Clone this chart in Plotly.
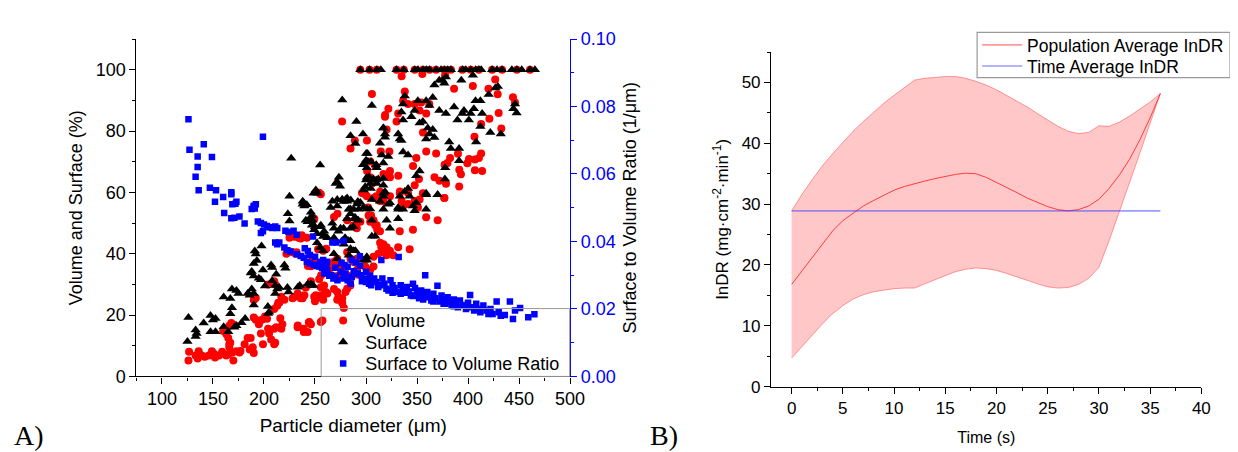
import plotly.graph_objects as go

# ---------------- Panel A data (particle diameter in um) ----------------
volume_pts = [
    (126,5.2),(126.6,8.0),(133,6.8),(135,5.8),(136,8.2),(139,6.8),(142,6.4),(146,6.8),(149,8.2),(151,7.4),
    (152,6.2),(156,6.8),(159,8.0),(163,6.8),(165,7.2),(166,9.5),(169,7.8),(170,5.2),(173,8.2),(176,7.8),(177,8.3),
    (166,16.5),(165,12.5),(166,10.5),(167,11),(168,17.4),(171,16.8),(160,14.8),(163,13.8),(181,10.5),(184,12.5),
    (187,12.5),(190,7.6),(186,8.8),(189,9.5),(190,19.2),(192,18.5),(195,17),(198,18.5),(201,19.5),(203,18.8),
    (190,24.9),(192,25.6),(197,14),(199,10.5),(204,15.5),(205,14),(207,12),(210,10.5),(211,11),(210,15.5),
    (212,16),(210,22),(213,23),(214,24),(204,30),(210,31),(211,30),(215,24),(217,26),(220,25),(216,19),(218,17),
    (217,15.5),(225,45.2),(230,45.5),(236,45),(237,46),(231,40),(232,40.5),(228,25.5),(230,26),(233,27),(236,25.5),
    (233,16),(239,15.5),(239,14.5),(244,17.6),(246,17),(241,29),(244,30),(246,31),(243,36),(248,38),(251,36.5),
    (250,24.5),(254,25.7),(258,25),(253,41.5),(256,41.5),(258,41),(256,33),(261,34),
    (233.1,16.6),(242.8,14.5),(244.4,17.7),(255.7,17.7),(257.3,18.2),(237.9,25.5),(239.6,26.5),(249.2,26),
    (250.8,26.5),(260.5,27.5),(262.1,27),(254.1,31.7),(255.7,29.1),(258.9,29.6),(276.7,25.5),(276.7,23.9),
    (278.3,22.3),(279.9,27.5),(281.5,28.6),(284.7,29.6),(284.7,32.2),(287.9,33.3),(291.2,34.8),(268.6,37.4),
    (271.8,38.4),(275,36.4),(299.2,35.8),(304.1,34.8),(307.3,35.8),(307.3,39),(312.1,40),(317,43.1),(320.2,42.1),
    (323.4,41),(326.7,39.5),(331.5,42.1),(333.1,47.3),(346,47.8),(342.8,41.5),(358.9,51.9),(370.2,50.9),
    (376.7,58.2),(333.1,59.7),(341.2,59.7),(355.7,59.7),(302.5,52.5),(304.1,50.4),(310.5,49.3),(313.7,47.3),
    (249.3,51.4),(268.6,52),(272,53),(281.5,50.9),(288,49.3),(291,48.3),(294.5,50.4),(300.9,58.7),(302,55.1),
    (305,52.5),(307.4,50.9),(309,49.3),(311,47.8),(313.8,43.6),(315,42.1),(318,40.5),(320,39.5),
    (281.5,40.5),(284.8,38.4),(288,37.3),(291.2,38.4),(276.7,34.8),(278.3,33.2),(284.8,32.7),(291.2,33.2),
    (271.8,32.7),(268.6,28.5),(271.8,27.5),(273,26),(271.8,25),(255.7,26.5),(260,27),(246,35.9),(255.7,35.9),
    (265,35.3),(261,41.6),(234,45.2),(237,45.7),(242,45.2),(222,40),(228,40.5),
    (334.9,97.9),(355.2,98.6),(377.5,98.2),(305.8,92.1),(338,92.9),(354,89.3),(362,88.8),(359,85.7),(386.3,93.8),
    (404.7,94.7),(426.6,96.8),(420,93.8),(429,92),(444,91),(446,89.3),(430,85.9),(420.9,84),(432.6,80.8),
    (412.8,82.3),(406.3,78.1),(412.8,72.7),(406.7,70.7),(390.1,72.6),(391.4,67.4),(393,65.9),(377,69),(379.8,69.6),
    (382.4,71.2),(368.7,72.7),(359,73.3),(355.8,79.5),(352.5,86.7),(347.7,88.8),(341.2,88.8),(336.4,89.9),
    (329.9,83.1),(321.9,87.3),(318.7,85.2),(331.5,85.7),(276.6,83.1),(284.8,74.3),(289,76.9),(300.9,76.9),
    (314.5,73.3),(322.9,73.3),(304.2,70.1),(309,68.6),(317.1,66),(323.5,67),(323.5,64.9),(331.6,65.4),(333.2,60.3),
    (347.7,62.3),(346.1,68.6),(349.3,71.2),(351.9,64.4),(367.1,64.9),(371.9,63.8),(378.4,62.8),(391.3,61.9),
    (406.7,67.2),(413.8,67),(410.6,71.2),(400.9,70.9),(399.3,69.5),(296,59.8),(299.3,59.3),(307.4,58.2),
    (313.8,57.2),(317.1,57.2),(323.5,58.7),(334.9,57.2),(341.2,56.2),(347.7,57.2),(350.9,55.1),(352.5,57.7),
    (376.8,58.2),(336.4,55.6),(254,59.9),(255.7,59.4),(301,67),(304,64.9),(306,62.9),(310,58.7),(312,57.6),
    (313.8,60.2),(320.2,80.5),(318.6,84.7),
]
volume_full_x = [294.4, 303.4, 310.6, 329.9, 337, 347.7, 355.8, 362.2, 368.7, 376.8, 383.2, 394.5,
                 402.6, 410.6, 423.6, 433.3, 447.8, 460.7]

surface_pts = [
    (126,19.2),(125,11.4),(133,15.1),(134,14),(133,13),(140.9,17.4),(147.6,19.9),(150,18.4),(152.5,18.9),
    (147.6,14.6),(152.5,14.6),(160.5,16.2),(160.5,25.9),(167,25.4),(168.6,28.5),(165,14.6),(168.6,22.4),
    (167,20.4),(171,16),(173,16.5),(178,17.5),(181.5,18.9),(173,28),(175,27),(184,27),(186,26.5),(188,28.5),
    (190,27),(190,23.3),(187.1,33.7),(190,36.8),(193,37.8),(192,39.9),(191,40.9),(197.6,42.5),(188,34.2),
    (190,32.7),(195,32),(197,31.5),(199,34.7),(201,29.5),(203.8,22.8),(205,20.9),(204,20.5),(207,36.3),
    (208,35.5),(208,31.2),(211,29.6),(212,33.3),(211,27),(213,28.5),(215,29),(220,36.3),(221,35.3),(223,29),
    (224,27.5),(225,50.7),(239.6,55.6),(242,56),(241,50.9),(244,51),(247,52.5),(246,50.5),(248.6,59.7),
    (247,49.3),(250,48.8),(252,46.5),(255,48.8),(258,46.5),(258,45.6),(252,43.6),(255,42),(258,41),(243,30.1),
    (246,29.6),(248,29.8),(235,29.6),(265.3,55.1),(271.8,57.7),(276.6,57.7),(281.5,58.2),(284.7,54.6),
    (291.2,56.2),(294.4,56.7),(297.6,55.1),(300.9,54.6),(304.1,54.6),(305.7,50.9),(268.5,48.3),(273,47.3),
    (278,48.3),(279.5,45.2),(282.8,44.2),(284.5,48.3),(287.6,48.8),(289.2,51.9),(292.4,50.9),(268.5,40),
    (271.8,38.4),(276.7,36.8),(283.1,39.5),(284.8,41.6),(288,41),(309,45.7),(301,37.9),
    (226.7,71.1),(255,68.9),(276.7,90.1),(305.7,88.3),(290.6,83.1),(284.8,78.5),(289.6,75.9),(297,79),
    (301.5,72.7),(317,81),(313.7,76),(318.6,78),(297,69),(300,70.5),(305,70),(310,69),(271.5,63.5),(274.5,62),
    (300,64),(303,65),(310,64),(317,64.5),(252.5,59.7),(270.3,62.9),(281.5,57.1),(239,56.6),(273.4,64.9),
    (271.8,63.3),(237.9,57.1),(267,57.1),(278,57),(285,57.5),(292,57),
    (300.2,72.7),(301.8,70.1),(300.8,68.0),(297.6,60.8),(299.2,61.8),(304.1,62.9),(307.3,64.4),(304.7,61.3),
    (310.5,62.9),(312.1,64.4),(317,62.3),(318.6,60.2),(300.8,64.9),(310.5,68.0),(317,69.6),(315.4,72.2),
    (321.8,71.7),(317,81.0),(318.6,79),(334.7,86.2),(336.3,83.6),(338,91.4),(336.3,88.8),(344.4,84.7),
    (347.6,86.7),(350.8,89.9),(358.9,89.9),(362.1,88.3),(352.5,82.6),(355.7,83.1),(360.5,81),(362.1,79),
    (358.9,77.4),(367,77.9),(365.4,80.5),(371.8,86.7),(378.3,85.7),(375,96.6),(376.7,95.6),(367,95.0),
    (365.4,90.9),(371.8,96.6),(378.3,97.6),(386.3,87.8),(394.4,85.7),(396,86.7),(389.6,83.6),(400.8,83.6),
    (402.5,85.7),(405.7,87.3),(407.3,89.9),(412.1,89.9),(413.8,85.7),(412.1,81.5),(420.2,91.9),(429.2,94.5),
    (426.7,94),(421.8,79.5),(432.1,79),(404.7,98.2),(393.4,96.6),(407.9,76.4),(391.2,74.3),(391.2,70.3),
    (381.5,76.4),(383.1,74.3),(377.6,68.0),(377.3,64.4),(370.2,59.2),(358.9,59.7),(352.5,67),(349.2,65.4),
    (341.2,72.2),(336.3,73.2),(333.1,77.4),(331.5,79),(334.7,76.9),(341.2,61.3),(342.8,58.7),(333.1,58.7),
    (331.5,55.1),(323.4,56.6),(317,58.7),(346,55.6),(358.9,54.5),(444.4,87.3),(447.6,85.9),(446,88.8),
    (250.8,60.8),(237.9,56.1),(246,53.5),(247.6,50.9),(242.8,50.4),(249.2,47.8),(255.7,49.3),(258.9,47.3),
    (262.1,45.2),(268.6,45.2),(267,49.9),(271.8,55.6),(276.7,57.7),(279.9,57.7),(283.1,54.5),(287.9,54.5),
    (292.8,54.5),(284.7,53),(289.6,51.4),(281.5,51.4),(275,48.3),(276.7,44.2),(278.3,43.1),(284.7,44.2),
    (289.6,41.0),(297.6,37.9),(300.8,39),(305.7,45.7),(323.4,48.3),(320.2,50.9),(331.5,51.4),(321.8,56.1),
    (317,54.5),(305.7,57.7),(313.7,57.1),(317,59.7),(337.9,60.3),(349.2,56.6),(358.9,59.2),(370.2,59.2),
    (347.6,54.0),(336.3,54.5),(331.5,54.5),(247.6,29.6),(246,30.1),(233.1,29.1),(225,58.7),(223.4,53),
]
surface_full_x = [294.4, 303.4, 310.6, 314.5, 329.9, 337, 347.7, 350.9, 355.8, 359, 362.2, 368.7, 373.5,
                  376.8, 380, 383.2, 394.5, 397.7, 402.6, 407.4, 410.6, 412.9, 423.6, 428.4, 433.3, 442.9,
                  447.8, 452.6, 460.7, 465.5]

ratio_pts = [
    (126,0.0762),(127,0.0672),(135,0.0652),(141,0.0688),(149,0.0650),(135,0.0621),(133,0.0592),(136,0.0552),
    (147,0.0559),(153,0.0552),(152,0.0518),(160,0.0532),(168,0.0546),(168,0.0540),(173,0.0518),(199,0.0710),
    (190,0.0506),(192,0.0510),(161,0.0484),(169,0.0510),(172,0.0512),(168,0.0469),(171,0.0470),(176,0.0474),
    (181,0.0453),(188,0.0496),(190,0.0502),(191,0.0498),(194,0.0459),(197,0.0455),(197,0.0425),(199,0.0430),
    (200,0.0450),(203,0.0446),(205,0.0442),(208,0.0440),(211,0.0444),(213,0.0440),(211,0.0397),(213,0.0392),
    (215,0.0397),(220,0.0382),(223,0.0374),(226,0.0370),(221,0.0432),(224,0.0428),(229,0.0432),(232,0.0420),
    (232,0.0362),(236,0.0357),(239,0.0352),(240,0.0380),(243,0.0372),(242,0.0340),(245,0.0335),(249,0.0330),
    (252,0.0327),(245,0.0360),(250,0.0355),(248,0.0415),(254,0.0326),(257,0.0322),(259,0.0305),(262,0.0315),
    (264,0.0298),(255,0.0340),(258,0.0345),(261,0.0330),(266,0.0300),(268,0.0290),(270,0.0295),(272,0.0285),
    (267,0.0397),(276,0.0337),(279,0.0330),(282,0.0325),(278,0.0290),(282,0.0285),(285,0.0275),(288,0.0312),
    (292,0.0305),(295,0.0300),(298,0.0290),(286,0.0345),(290,0.0338),(294,0.0328),(300,0.0280),(303,0.0275),
    (305,0.0270),(300,0.0310),(304,0.0298),(308,0.0290),(310,0.0280),(312,0.0265),(315,0.0345),(316,0.0290),
    (318,0.0275),(320,0.0260),(322,0.0255),(324,0.0285),(326,0.0270),(328,0.0262),(330,0.0250),(332,0.0354),
    (334,0.0270),(336,0.0258),(338,0.0248),(340,0.0265),(342,0.0252),(344,0.0240),(346,0.0275),(348,0.0262),
    (350,0.0245),(352,0.0232),(354,0.0255),(356,0.0240),(358,0.0300),(360,0.0250),(362,0.0235),(364,0.0225),
    (366,0.0245),(368,0.0232),(370,0.0269),(372,0.0222),(374,0.0240),(376,0.0228),(378,0.0215),(380,0.0235),
    (382,0.0222),(384,0.0210),(386,0.0228),(388,0.0218),(390,0.0205),(392,0.0225),(395,0.0212),(398,0.0200),
    (400,0.0218),(402,0.0241),(404,0.0205),(406,0.0195),(408,0.0215),(410,0.0200),(412,0.0190),(415,0.0210),
    (418,0.0195),(420,0.0185),(422,0.0200),(424,0.0185),(428,0.0222),(430,0.0190),(432,0.0180),(436,0.0182),
    (441,0.0222),(444,0.0170),(446,0.0195),(451,0.0203),(459,0.0175),(465,0.0184),(271,0.0397),(278,0.0401),
    (294,0.0356),(262,0.0340),(270,0.0322),(275,0.0310),(280,0.0305),(286,0.0295),(296,0.0282),(306,0.0285),
    (314,0.0270),(326,0.0248),(334,0.0245),(346,0.0238),(356,0.0228),(366,0.0222),(376,0.0215),(386,0.0208),
]

# ---------------- Panel B data ----------------
time_s = list(range(0, 37))
indr_mean = [16.8, 19.0, 21.2, 23.4, 25.6, 27.3, 28.5, 29.7, 30.6, 31.5, 32.3, 32.9, 33.4, 33.8, 34.2, 34.6,
             34.9, 35.1, 35.0, 34.4, 33.6, 32.7, 31.9, 31.0, 30.3, 29.6, 29.1, 28.9, 29.1, 29.7, 30.8, 32.6,
             34.8, 37.4, 40.6, 44.2, 48.2]
indr_upper = [28.9, 31.6, 34.0, 36.3, 38.3, 40.2, 42.0, 43.6, 45.1, 46.6, 47.9, 49.2, 50.4, 50.7, 50.9, 51.0,
              51.0, 50.7, 50.2, 49.6, 48.8, 47.9, 47.0, 46.0, 44.9, 43.8, 42.8, 42.0, 41.6, 41.8, 42.9, 42.8,
              43.5, 44.5, 45.6, 46.8, 48.2]
indr_lower = [4.7, 6.6, 8.5, 10.3, 12.0, 13.3, 14.4, 15.1, 15.6, 15.9, 16.1, 16.2, 16.2, 16.9, 17.6, 18.3,
              18.9, 19.3, 19.5, 19.4, 19.1, 18.6, 18.0, 17.4, 16.9, 16.4, 16.2, 16.3, 16.8, 17.8, 19.6, 24.0,
              28.7, 33.5, 38.4, 43.3, 48.2]
time_average_indr = 28.9

# ---------------- figure ----------------
W, H = 1238, 452
FONT = "Liberation Sans, Arial, sans-serif"
SERIF = "Liberation Serif, Times New Roman, serif"

vol_x = [p[0] for p in volume_pts] + volume_full_x
vol_y = [p[1] for p in volume_pts] + [100] * len(volume_full_x)
sur_x = [p[0] for p in surface_pts] + surface_full_x
sur_y = [p[1] for p in surface_pts] + [100] * len(surface_full_x)
rat_x = [p[0] for p in ratio_pts]
rat_y = [p[1] for p in ratio_pts]

fig = go.Figure()
fig.add_trace(go.Scatter(x=vol_x, y=vol_y, mode="markers", name="Volume",
                         marker=dict(symbol="circle", size=8, color="#FF0000"),
                         xaxis="x", yaxis="y", legend="legend"))
fig.add_trace(go.Scatter(x=sur_x, y=sur_y, mode="markers", name="Surface",
                         marker=dict(symbol="triangle-up", size=9, color="#000000"),
                         xaxis="x", yaxis="y", legend="legend3"))
fig.add_trace(go.Scatter(x=rat_x, y=rat_y, mode="markers", name="Surface to Volume Ratio",
                         marker=dict(symbol="square", size=6.5, color="#0000FF"),
                         xaxis="x", yaxis="y3", legend="legend4"))

# Panel B
fig.add_trace(go.Scatter(x=time_s, y=indr_upper, mode="lines", showlegend=False,
                         line=dict(color="rgba(255,0,0,0.45)", width=0.8),
                         xaxis="x2", yaxis="y2", hoverinfo="skip"))
fig.add_trace(go.Scatter(x=time_s, y=indr_lower, mode="lines", showlegend=False, fill="tonexty",
                         fillcolor="rgba(255,0,0,0.22)",
                         line=dict(color="rgba(255,0,0,0.45)", width=0.8),
                         xaxis="x2", yaxis="y2", hoverinfo="skip"))
fig.add_trace(go.Scatter(x=time_s, y=indr_mean, mode="lines", name="Population Average InDR",
                         line=dict(color="rgba(255,0,0,0.7)", width=1),
                         xaxis="x2", yaxis="y2", legend="legend2"))
fig.add_trace(go.Scatter(x=[time_s[0], time_s[-1]], y=[time_average_indr, time_average_indr],
                         mode="lines", name="Time Average InDR",
                         line=dict(color="rgba(60,60,255,0.5)", width=1.6),
                         xaxis="x2", yaxis="y2", legend="legend5"))


def px(v):
    return v / W


def py(v):
    return 1 - v / H


tickfont_a = dict(family=FONT, size=18, color="black")
axis_common = dict(showgrid=False, zeroline=False, showline=True, linecolor="black", linewidth=1.3,
                   ticks="outside", tickcolor="black", ticklen=6, tickwidth=1.2)


def item_legend(x_left, y_mid, iw, fs):
    return dict(x=px(x_left), y=py(y_mid), xanchor="left", yanchor="middle",
                bgcolor="rgba(0,0,0,0)", borderwidth=0, font=dict(family=FONT, size=fs),
                itemwidth=iw)


fig.update_layout(
    width=W, height=H, margin=dict(l=0, r=0, t=0, b=0),
    paper_bgcolor="white", plot_bgcolor="white",
    font=dict(family=FONT, size=17, color="black"),
    xaxis=dict(domain=[px(130), px(569)], anchor="y", range=[75, 500], tick0=0, dtick=50,
               tickfont=tickfont_a,
               minor=dict(dtick=25, tick0=0, ticks="outside", ticklen=3, tickcolor="black"),
               title=dict(text="Particle diameter (\u03bcm)", font=dict(family=FONT, size=19), standoff=10),
               **axis_common),
    xaxis3=dict(overlaying="x", side="top", anchor="y", range=[75, 500], tick0=0, dtick=25,
                showgrid=False, zeroline=False, showline=True, linecolor="black", linewidth=1.3,
                ticks="inside", ticklen=5, tickcolor="black", showticklabels=False),
    yaxis=dict(domain=[py(375), py(22)], anchor="x", range=[0, 110], tick0=0, dtick=20,
               tickfont=tickfont_a,
               minor=dict(dtick=10, tick0=0, ticks="outside", ticklen=3, tickcolor="black"),
               title=dict(text="Volume and Surface (%)", font=dict(family=FONT, size=18), standoff=8),
               **axis_common),
    yaxis3=dict(overlaying="y", side="right", anchor="x", range=[0, 0.1], tick0=0, dtick=0.02,
                tickformat=".2f", showgrid=False, zeroline=False, showline=True,
                linecolor="#0000FF", linewidth=1.3, ticks="outside", tickcolor="#0000FF", ticklen=6,
                tickfont=dict(family=FONT, size=18, color="#0000FF"),
                minor=dict(dtick=0.01, tick0=0, ticks="outside", ticklen=3, tickcolor="#0000FF"),
                title=dict(text="Surface to Volume Ratio (1/\u03bcm)", font=dict(family=FONT, size=18, color="black"),
                           standoff=8)),
    xaxis2=dict(domain=[px(772.5), px(1208)], anchor="y2", range=[-2, 40], tick0=0, dtick=5,
                tickfont=dict(family=FONT, size=17),
                minor=dict(dtick=2.5, tick0=0, ticks="outside", ticklen=3, tickcolor="black"),
                title=dict(text="Time (s)", font=dict(family=FONT, size=16), standoff=14),
                **axis_common),
    yaxis2=dict(domain=[py(385.7), py(35.7)], anchor="x2", range=[0, 55], tick0=0, dtick=10,
                tickfont=dict(family=FONT, size=17),
                minor=dict(dtick=5, tick0=0, ticks="outside", ticklen=3, tickcolor="black"),
                title=dict(text="InDR (mg\u00b7cm<sup>-2</sup>\u00b7min<sup>-1</sup>)",
                           font=dict(family=FONT, size=17), standoff=8),
                **axis_common),
    legend=item_legend(317, 316.7, 34, 18),
    legend3=item_legend(317, 339.3, 34, 18),
    legend4=item_legend(317, 361.7, 34, 18),
    legend2=item_legend(981, 28.3, 40, 17.5),
    legend5=item_legend(981, 50.3, 40, 17.5),
    shapes=[
        dict(type="rect", xref="paper", yref="paper", x0=px(317), x1=px(568.5), y0=py(375), y1=py(304),
             line=dict(color="#9a9a9a", width=1), fillcolor="rgba(0,0,0,0)", layer="above"),
        dict(type="rect", xref="paper", yref="paper", x0=px(981), x1=px(1237), y0=py(62.3), y1=py(15),
             line=dict(color="#9a9a9a", width=1.2), fillcolor="white", layer="above"),
    ],
    annotations=[
        dict(text="A)", x=px(4), y=py(437), xref="paper", yref="paper", xanchor="left", yanchor="middle",
             showarrow=False, font=dict(family=SERIF, size=28)),
        dict(text="B)", x=px(648), y=py(437), xref="paper", yref="paper", xanchor="left", yanchor="middle",
             showarrow=False, font=dict(family=SERIF, size=28)),
    ],
)

fig.write_html("out.html")
